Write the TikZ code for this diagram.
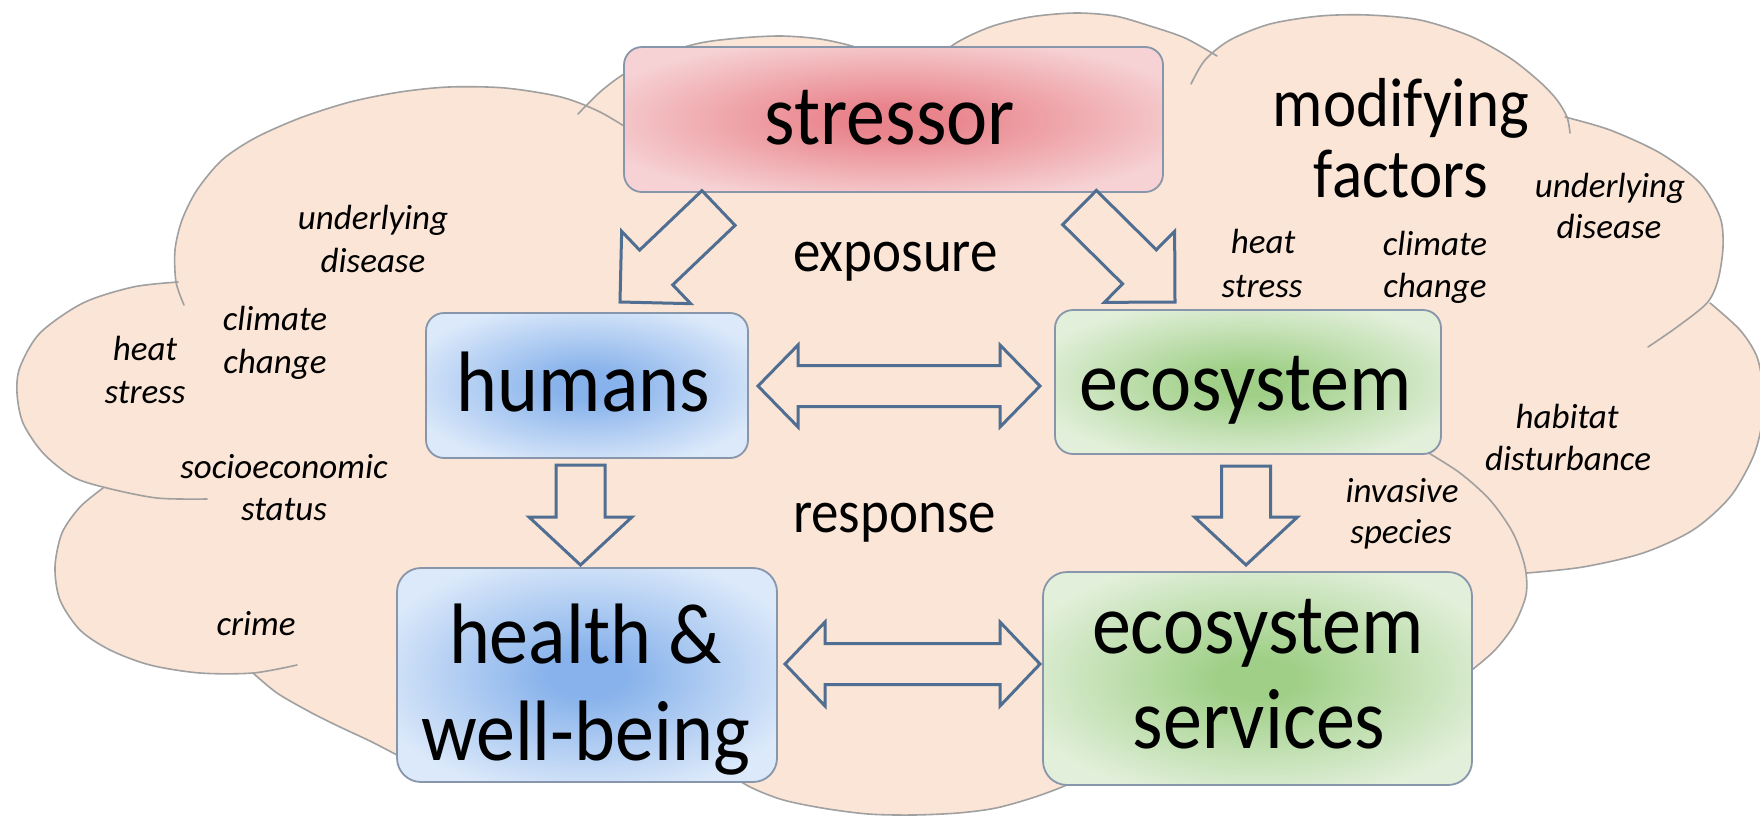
\documentclass[tikz,border=0pt]{standalone}
\usepackage{fontspec}
\usepackage{graphicx}
\setmainfont{Carlito}
\usetikzlibrary{calc}
\definecolor{cloudFillC}{RGB}{251,229,214}
\definecolor{cloudLineC}{RGB}{160,160,160}
\definecolor{arrowLineC}{RGB}{80,110,145}
\definecolor{boxLineC}{RGB}{135,150,170}
\definecolor{redIn}{RGB}{233,132,140}
\definecolor{redOut}{RGB}{246,210,212}
\definecolor{blueIn}{RGB}{135,178,235}
\definecolor{blueOut}{RGB}{220,233,250}
\definecolor{greenIn}{RGB}{160,208,136}
\definecolor{greenOut}{RGB}{226,239,218}
\pgfdeclareradialshading{redShade}{\pgfpointorigin}{color(0bp)=(redIn); color(5bp)=(redIn); color(29bp)=(redOut); color(50bp)=(redOut)}
\pgfdeclareradialshading{blueShade}{\pgfpointorigin}{color(0bp)=(blueIn); color(5bp)=(blueIn); color(29bp)=(blueOut); color(50bp)=(blueOut)}
\pgfdeclareradialshading{greenShade}{\pgfpointorigin}{color(0bp)=(greenIn); color(5bp)=(greenIn); color(29bp)=(greenOut); color(50bp)=(greenOut)}
\newcommand{\tallbox}[1]{\scalebox{1}[1.1]{#1}}
\tikzset{
  cloudpart/.style={fill=cloudFillC},
  cloudarc/.style={draw=cloudLineC, line width=1.6pt, line cap=round},
  blockarrow/.style={draw=arrowLineC, line width=3pt, line join=miter},
  box/.style={draw=boxLineC, line width=1.8pt, rounded corners=18pt, inner sep=0pt},
  bigtext/.style={font=\fontsize{78}{94}\selectfont, anchor=base, inner sep=0pt},
  midtext/.style={font=\fontsize{63}{76}\selectfont, anchor=base, inner sep=0pt},
  labtext/.style={font=\fontsize{55}{66}\selectfont, anchor=base, inner sep=0pt},
  smalltext/.style={font=\itshape\fontsize{35}{43}\selectfont, anchor=base, inner sep=0pt},
}
% single block arrow: tail, tip, shaft half width, head half width, head length
\newcommand{\singleblock}[5]{%
  \coordinate (#1-h) at ($(#2)!#5!(#1)$);
  \draw[blockarrow]
    ($(#1)!#3!90:(#2)$) -- ($(#1-h)!#3!90:(#2)$) -- ($(#1-h)!#4!90:(#2)$) --
    (#2) --
    ($(#1-h)!#4!-90:(#2)$) -- ($(#1-h)!#3!-90:(#2)$) -- ($(#1)!#3!-90:(#2)$) -- cycle;}
% double block arrow: end P, end Q, shaft half width, head half width, head length
\newcommand{\doubleblock}[5]{%
  \coordinate (#1-h) at ($(#1)!#5!(#2)$);
  \coordinate (#2-h) at ($(#2)!#5!(#1)$);
  \draw[blockarrow]
    (#1) -- ($(#1-h)!#4!90:(#2)$) -- ($(#1-h)!#3!90:(#2)$) --
    ($(#2-h)!#3!90:(#2)$) -- ($(#2-h)!#4!90:(#2)$) -- (#2) --
    ($(#2-h)!#4!-90:(#2)$) -- ($(#2-h)!#3!-90:(#2)$) --
    ($(#1-h)!#3!-90:(#2)$) -- ($(#1-h)!#4!-90:(#2)$) -- cycle;}
\begin{document}
\begin{tikzpicture}[x=1pt,y=-1pt]
\useasboundingbox (0,0) rectangle (1760,817);

% ---------- cloud fill ----------
\coordinate (cc) at (880,420);
\fill[cloudpart] (176,282) -- (584,107) -- (953,45) -- (1191,84) -- (1567,117) -- (1707,303)
  -- (1527,573) -- (1472,670) -- (1071,783) -- (743,783) -- (397,755) -- (253,673) -- (103,488) -- cycle;
\def\bA{(184,305) (176,282) (175,250) (182,220) (197,190) (222,160) (255,138) (300,118) (350,102) (400,92) (449,87) (505,88) (561,97) (600,112) (635,133)}
\def\bB{(578,114) (600,92) (624,74) (660,55) (700,43) (740,38) (781,36) (820,39) (855,47) (885,60) (910,80)}
\def\bC{(930,70) (953,45) (990,27) (1030,17) (1075,13) (1115,16) (1150,26) (1185,38) (1217,56)}
\def\bD{(1191,84) (1205,60) (1230,40) (1270,24) (1320,16) (1368,15) (1420,20) (1470,36) (1510,58) (1540,82) (1557,100) (1567,117) (1570,133)}
\def\bE{(1565,117) (1610,130) (1660,153) (1700,183) (1720,217) (1723,247) (1718,280) (1707,303) (1677,327) (1648,347)}
\def\bF{(1710,303) (1740,330) (1757,357) (1763,390) (1762,423) (1753,457) (1730,497) (1693,530) (1643,553) (1583,567) (1527,573)}
\def\bG{(1427,452) (1460,473) (1490,500) (1513,533) (1525,567) (1526,595) (1514,625) (1495,650) (1472,670) (1450,688)}
\def\bH{(720,760) (743,783) (780,799) (822,808) (868,814) (913,815) (958,813) (996,808) (1035,797) (1071,783) (1100,765)}
\def\bI{(253,673) (277,693) (310,712) (340,727) (370,741) (397,755) (430,772)}
\def\bJ{(103,488) (80,507) (62,533) (55,567) (60,600) (80,630) (110,650) (150,665) (200,673) (253,673) (297,665)}
\def\bK{(178,282) (133,287) (83,303) (40,333) (20,367) (17,393) (23,423) (43,453) (73,477) (107,488) (157,498) (207,499)}
\foreach \b in {\bA,\bB,\bC,\bD,\bE,\bF,\bG,\bH,\bI,\bJ,\bK}{
  \fill[cloudpart] (cc) -- plot[smooth] coordinates \b -- cycle;
}
\foreach \b in {\bA,\bB,\bC,\bD,\bE,\bF,\bG,\bH,\bI,\bJ,\bK}{
  \draw[cloudarc] plot[smooth] coordinates \b;
}

% ---------- boxes ----------
\node[box, shading=redShade, minimum width=539pt, minimum height=145pt] (stressor) at (893.5,119.5) {};
\node[box, shading=blueShade, minimum width=322pt, minimum height=145pt] (humans) at (587,385.5) {};
\node[box, shading=greenShade, minimum width=386pt, minimum height=144pt] (eco) at (1248,382) {};
\node[box, shading=blueShade, minimum width=380pt, minimum height=214pt, rounded corners=24pt] (health) at (587,675) {};
\node[box, shading=greenShade, minimum width=429pt, minimum height=213pt, rounded corners=24pt] (services) at (1257.5,678.5) {};

% ---------- block arrows ----------
\coordinate (expL-t) at (718.5,208);  \coordinate (expL-p) at (620,302);
\coordinate (expR-t) at (1079.5,207.5); \coordinate (expR-p) at (1175,302);
\coordinate (resL-t) at (580.5,465);  \coordinate (resL-p) at (580.5,565);
\coordinate (resR-t) at (1246,466);   \coordinate (resR-p) at (1246,565);
\coordinate (dTop-a) at (758,386);    \coordinate (dTop-b) at (1040,386);
\coordinate (dBot-a) at (785,664);    \coordinate (dBot-b) at (1040,664);
\singleblock{expL-t}{expL-p}{24pt}{50pt}{50pt}
\singleblock{expR-t}{expR-p}{24pt}{50pt}{50pt}
\singleblock{resL-t}{resL-p}{24.5pt}{51.5pt}{48pt}
\singleblock{resR-t}{resR-p}{24.5pt}{51.5pt}{48pt}
\doubleblock{dTop-a}{dTop-b}{20.5pt}{41pt}{40pt}
\doubleblock{dBot-a}{dBot-b}{20.5pt}{42pt}{40pt}

% ---------- box texts ----------
\node[bigtext] (tStressor) at (890,144) {\tallbox{stressor}};
\node[bigtext] (tHumans) at (583.5,411) {\tallbox{humans}};
\node[bigtext] (tEco) at (1245.5,410) {\tallbox{ecosystem}};
\node[bigtext] (tHealthA) at (585.5,663) {\tallbox{health \&}};
\node[bigtext] (tHealthB) at (585.5,760) {\tallbox{well-being}};
\node[bigtext] (tServA) at (1258,653) {\tallbox{ecosystem}};
\node[bigtext] (tServB) at (1259,748) {\tallbox{services}};

% ---------- labels ----------
\node[midtext] (tModA) at (1401,126) {\tallbox{modifying}};
\node[midtext] (tModB) at (1401,197) {\tallbox{factors}};
\node[labtext] (tExp) at (895.5,271) {\tallbox{exposure}};
\node[labtext] (tResp) at (894.5,532) {\tallbox{response}};

% ---------- factors (italic) ----------
\node[smalltext] (l1a) at (373,229) {underlying};
\node[smalltext] (l1b) at (373,272) {disease};
\node[smalltext] (l2a) at (275,330) {climate};
\node[smalltext] (l2b) at (275,373) {change};
\node[smalltext] (l3a) at (145,360) {heat};
\node[smalltext] (l3b) at (145,403) {stress};
\node[smalltext] (l4a) at (284,478) {socioeconomic};
\node[smalltext] (l4b) at (284,520) {status};
\node[smalltext] (l5) at (256,635) {crime};
\node[smalltext] (r1a) at (1263,253) {heat};
\node[smalltext] (r1b) at (1262,297) {stress};
\node[smalltext] (r2a) at (1435,255) {climate};
\node[smalltext] (r2b) at (1435,297) {change};
\node[smalltext] (r3a) at (1610,197) {underlying};
\node[smalltext] (r3b) at (1609,238) {disease};
\node[smalltext] (r4a) at (1567,428) {habitat};
\node[smalltext] (r4b) at (1568,470) {disturbance};
\node[smalltext] (r5a) at (1402,502) {invasive};
\node[smalltext] (r5b) at (1401,543) {species};
\end{tikzpicture}
\end{document}
